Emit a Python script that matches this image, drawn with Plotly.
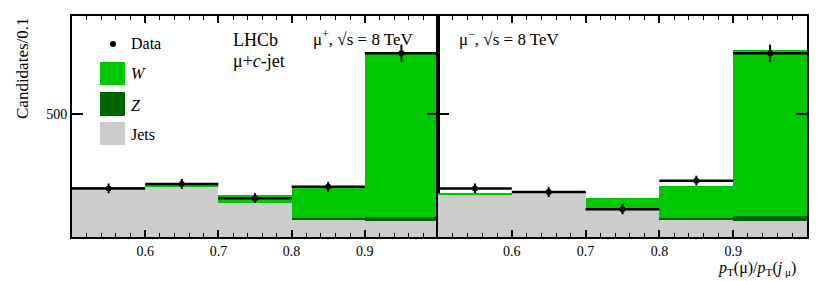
import plotly.graph_objects as go

# ---- data ----
bin_centers = [0.55, 0.65, 0.75, 0.85, 0.95]
bin_width = [0.1] * 5

# mu+ panel
plus_jets = [319, 323, 284, 244, 239]
plus_z = [0, 0, 0, 2, 11]
plus_w = [1, 4, 19, 78, 402]
plus_data = [319, 330, 295, 323, 650]
plus_err = [12, 12, 12, 12, 21]

# mu- panel
minus_jets = [305, 308, 270, 244, 239]
minus_z = [0, 0, 0, 2, 12]
minus_w = [2, 1, 25, 79, 408]
minus_data = [319, 310, 268, 338, 650]
minus_err = [12, 12, 12, 12, 21]

y_ticks = [500]
x_ticks = [0.6, 0.7, 0.8, 0.9]
x_ticklabels = ["0.6", "0.7", "0.8", "0.9"]

C_W = "#00c800"
C_Z = "#006400"
C_J = "#cccccc"
FONT = "Liberation Serif, Times New Roman, serif"

# page body has an 8px default margin: compensate
OFF = 8
W, H = 828 - OFF, 281 - OFF
def px(x):
    return (x - OFF) / W
def py(y):
    return 1 - (y - OFF) / H

fig = go.Figure()

panels = [
    ("x", "y", plus_jets, plus_z, plus_w, plus_data, plus_err),
    ("x2", "y2", minus_jets, minus_z, minus_w, minus_data, minus_err),
]
for xa, ya, jets, z, w, data, err in panels:
    for vals, col in [(jets, C_J), (z, C_Z), (w, C_W)]:
        fig.add_trace(go.Bar(x=bin_centers, y=vals, width=bin_width, marker=dict(color=col, line=dict(width=0)),
                             xaxis=xa, yaxis=ya, showlegend=False))
    fig.add_trace(go.Scatter(x=bin_centers, y=data, mode="markers", xaxis=xa, yaxis=ya, showlegend=False,
                             marker=dict(color="black", size=6),
                             error_x=dict(type="data", array=[bw / 2 for bw in bin_width], width=0, thickness=2.5, color="black"),
                             error_y=dict(type="data", array=err, width=0, thickness=2, color="black")))

yr = [200, 741]
xcommon = dict(range=[0.5, 1.0], tickvals=x_ticks, ticktext=x_ticklabels, ticks="inside", ticklen=7, tickwidth=1.5,
               tickcolor="black", showline=True, linecolor="black", linewidth=2, mirror="ticks", showgrid=False,
               zeroline=False, tickfont=dict(family=FONT, size=14, color="black"),
               minor=dict(dtick=0.02, tick0=0.5, ticks="inside", ticklen=4, tickwidth=1.2, tickcolor="black", showgrid=False))
ycommon = dict(range=yr, tickvals=y_ticks, ticks="inside", ticklen=11, tickwidth=2, tickcolor="black",
               showline=True, linecolor="black", linewidth=2, mirror="ticks", showgrid=False, zeroline=False,
               tickfont=dict(family=FONT, size=14, color="black"))

ydom = [py(237), py(16)]
fig.update_layout(
    width=W, height=H, margin=dict(l=0, r=0, t=0, b=0),
    paper_bgcolor="white", plot_bgcolor="white",
    barmode="stack", bargap=0,
    xaxis=dict(domain=[px(72), px(438)], anchor="y", **xcommon),
    xaxis2=dict(domain=[px(438), px(807)], anchor="y2", **xcommon),
    yaxis=dict(domain=ydom, anchor="x", **ycommon),
    yaxis2=dict(domain=ydom, anchor="x2", showticklabels=False, **ycommon),
    showlegend=False,
)

shapes = []
for (y0, y1, col) in [(62, 85, C_W), (92, 116, C_Z), (122, 145, C_J)]:
    shapes.append(dict(type="rect", xref="paper", yref="paper", x0=px(100), x1=px(125), y0=py(y1), y1=py(y0),
                       fillcolor=col, line=dict(width=0)))
shapes.append(dict(type="circle", xref="paper", yref="paper", x0=px(110), x1=px(116), y0=py(47), y1=py(41),
                   fillcolor="black", line=dict(width=0)))
fig.update_layout(shapes=shapes)

def ann(text, x, y, size=16, xanchor="left", yanchor="middle", angle=0):
    fig.add_annotation(text=text, x=px(x), y=py(y), xref="paper", yref="paper", showarrow=False,
                       xanchor=xanchor, yanchor=yanchor, textangle=angle,
                       font=dict(family=FONT, size=size, color="black"))

ann("Data", 129, 44)
ann("<i>W</i>", 129, 73)
ann("<i>Z</i>", 129, 105)
ann("Jets", 129, 134)
ann("LHCb", 231, 40, size=18)
ann("μ+<i>c</i>-jet", 231, 61, size=18)
ann("μ<sup>+</sup>, √s = 8 TeV", 311, 38, size=17)
ann("μ<sup>−</sup>, √s = 8 TeV", 457, 38, size=17)
ann("Candidates/0.1", 22, 15, size=17, xanchor="center", yanchor="top", angle=-90)
ann("<i>p</i><sub>T</sub>(μ)/<i>p</i><sub>T</sub>(<i>j</i><sub> μ</sub>)", 798, 280, size=16, xanchor="right", yanchor="bottom")

fig.write_html("out.html")
